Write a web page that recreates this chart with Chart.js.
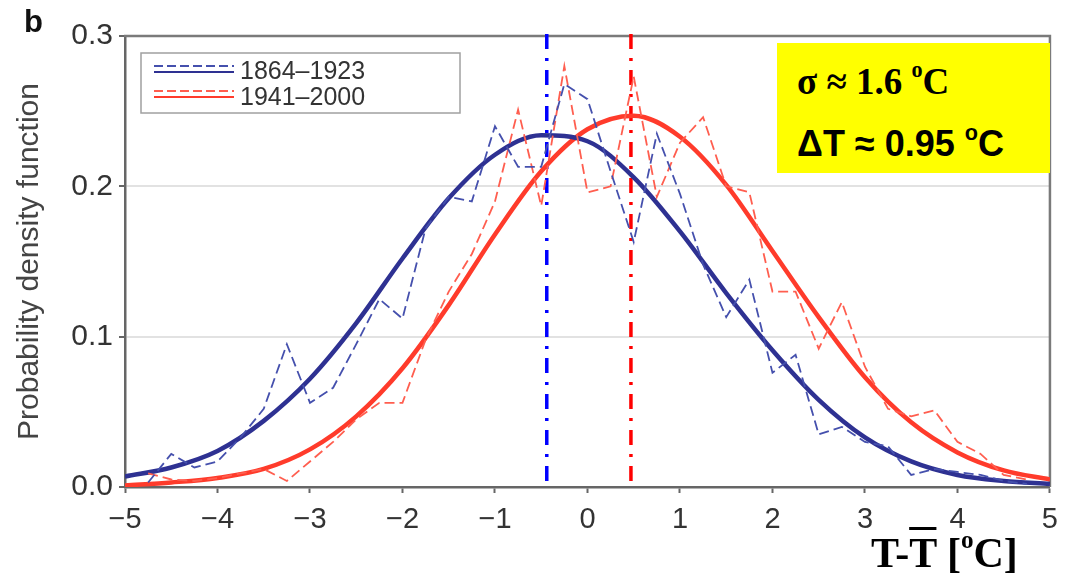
<!DOCTYPE html>
<html>
<head>
<meta charset="utf-8">
<script src="https://cdn.jsdelivr.net/npm/chart.js@4"></script>
<style>
  body { margin: 0; background: #fff; }
  #wrap { position: relative; width: 1068px; height: 584px; overflow: hidden; }
  #chart { position: absolute; left: 0; top: 0; }
  .panel { position: absolute; left: 24px; top: 4px; font: bold 31px 'Liberation Sans', Arial, sans-serif; color: #111; }
  .note { position: absolute; left: 777px; top: 43px; width: 273px; height: 130px; background: #ffff00; }
  .note div { position: absolute; left: 20px; white-space: nowrap; color: #000; line-height: 1; }
  .sig { top: 20px; font: bold 37px 'Liberation Serif', 'Times New Roman', serif; }
  .dt { top: 83px; font: bold 36px 'Liberation Sans', Arial, sans-serif; }
  sup { font-size: 0.6em; vertical-align: 0; position: relative; top: -0.75em; }
  .xtitle { position: absolute; left: 871px; top: 529px; line-height: 1; white-space: nowrap; font: bold 42px 'Liberation Serif', 'Times New Roman', serif; color: #000; }
  .ov { text-decoration: overline; text-decoration-thickness: 3px; }
</style>
</head>
<body>
<div id="wrap">
  <canvas id="chart" width="1068" height="584"></canvas>
  <div class="panel">b</div>
  <div class="note">
    <div class="sig">σ ≈ 1.6 <sup>o</sup>C</div>
    <div class="dt">ΔT ≈ 0.95 <sup>o</sup>C</div>
  </div>
  <div class="xtitle">T-<span class="ov">T</span> [<sup>o</sup>C]</div>
</div>
<script>
// ------------------------------------------------------- //
// Data
// ------------------------------------------------------ //
var binCentres = [-4.75, -4.5, -4.25, -4.0, -3.75, -3.5, -3.25, -3.0, -2.75, -2.5, -2.25, -2.0, -1.75,
    -1.5, -1.25, -1.0, -0.75, -0.5, -0.25, 0.0, 0.25, 0.5, 0.75, 1.0, 1.25, 1.5, 1.75,
    2.0, 2.25, 2.5, 2.75, 3.0, 3.25, 3.5, 3.75, 4.0, 4.25, 4.5, 4.75];
var histEarly = [0.003, 0.022, 0.013, 0.017, 0.033, 0.052, 0.095, 0.056, 0.066, 0.095, 0.125, 0.112, 0.172,
    0.193, 0.19, 0.24, 0.213, 0.213, 0.268, 0.258, 0.21, 0.163, 0.235, 0.195, 0.148, 0.113, 0.138,
    0.076, 0.088, 0.035, 0.04, 0.03, 0.027, 0.008, 0.012, 0.01, 0.008, 0.004, 0.002];
var histLate = [0.009, 0.005, 0.004, 0.006, 0.009, 0.012, 0.004, 0.017, 0.03, 0.045, 0.056, 0.056, 0.098,
    0.13, 0.155, 0.19, 0.251, 0.187, 0.28, 0.196, 0.2, 0.273, 0.193, 0.229, 0.246, 0.2, 0.196,
    0.13, 0.13, 0.092, 0.123, 0.08, 0.052, 0.047, 0.051, 0.03, 0.022, 0.008, 0.005];

var fitX = [-5, -4.5, -4, -3.5, -3, -2.5, -2, -1.5, -1, -0.5, 0, 0.5, 1, 1.5, 2, 2.5, 3, 3.5, 4, 4.5, 5];
var fitEarly = [0.007, 0.013, 0.024, 0.044, 0.072, 0.109, 0.152, 0.192, 0.221, 0.234, 0.23, 0.206,
    0.17, 0.129, 0.091, 0.058, 0.033, 0.017, 0.008, 0.004, 0.002];
var fitLate = [0.001, 0.003, 0.006, 0.012, 0.025, 0.047, 0.079, 0.121, 0.168, 0.21, 0.238, 0.247,
    0.233, 0.201, 0.157, 0.113, 0.073, 0.043, 0.023, 0.011, 0.005];

var meanEarly = -0.44;
var meanLate = 0.47;
var meanSpan = [0.004, 0.304];

var seriesNames = ['1864\u20131923', '1941\u20132000'];
var xTicks = [-5, -4, -3, -2, -1, 0, 1, 2, 3, 4, 5];
var yTicks = [0, 0.1, 0.2, 0.3];

var blueFit = '#2e3192', redFit = '#ff3b2b';
var blueHist = '#4550ad', redHist = '#ff5e4f';

function pairs(xs, ys) {
    return xs.map(function (x, i) { return { x: x, y: ys[i] }; });
}
function vline(x) {
    return meanSpan.map(function (y) { return { x: x, y: y }; });
}

// ------------------------------------------------------- //
// Frame (top / right) and legend
// ------------------------------------------------------ //
var framePlugin = {
    id: 'frame',
    beforeDatasetsDraw: function (chart) {
        var a = chart.chartArea, ctx = chart.ctx;
        ctx.save();
        ctx.strokeStyle = '#7a7a7a';
        ctx.lineWidth = 2.5;
        ctx.beginPath();
        ctx.moveTo(a.left - 1, a.top);
        ctx.lineTo(a.right, a.top);
        ctx.lineTo(a.right, a.bottom);
        ctx.stroke();
        ctx.restore();
    }
};

var legendPlugin = {
    id: 'pairLegend',
    afterDraw: function (chart) {
        var ctx = chart.ctx;
        ctx.save();
        ctx.fillStyle = '#fff';
        ctx.fillRect(141, 53, 319, 60);
        ctx.strokeStyle = '#a0a0a0';
        ctx.lineWidth = 1.5;
        ctx.strokeRect(141, 53, 319, 60);
        var rows = [
            { y: 66, hist: blueHist, fit: blueFit, name: seriesNames[0], base: 79 },
            { y: 91, hist: redHist, fit: redFit, name: seriesNames[1], base: 105 }
        ];
        rows.forEach(function (r) {
            ctx.setLineDash([9, 4]);
            ctx.lineWidth = 1.8;
            ctx.strokeStyle = r.hist;
            ctx.beginPath(); ctx.moveTo(154, r.y); ctx.lineTo(234, r.y); ctx.stroke();
            ctx.setLineDash([]);
            ctx.lineWidth = 2;
            ctx.strokeStyle = r.fit;
            ctx.beginPath(); ctx.moveTo(154, r.y + 6); ctx.lineTo(234, r.y + 6); ctx.stroke();
            ctx.fillStyle = '#333';
            ctx.font = '25px "Liberation Sans", Arial, sans-serif';
            ctx.textBaseline = 'alphabetic';
            ctx.fillText(r.name, 240, r.base);
        });
        ctx.restore();
    }
};

var ctx = document.getElementById('chart').getContext('2d');
var chart = new Chart(ctx, {
    type: 'line',
    data: {
        datasets: [
            { label: seriesNames[0] + ' hist', data: pairs(binCentres, histEarly), borderColor: blueHist,
              borderWidth: 1.8, borderDash: [10, 5], pointRadius: 0, tension: 0 },
            { label: seriesNames[1] + ' hist', data: pairs(binCentres, histLate), borderColor: redHist,
              borderWidth: 1.8, borderDash: [10, 5], pointRadius: 0, tension: 0 },
            { label: seriesNames[0], data: pairs(fitX, fitEarly), borderColor: blueFit,
              borderWidth: 4.5, pointRadius: 0, cubicInterpolationMode: 'monotone' },
            { label: seriesNames[1], data: pairs(fitX, fitLate), borderColor: redFit,
              borderWidth: 4.5, pointRadius: 0, cubicInterpolationMode: 'monotone' },
            { label: 'mean early', data: vline(meanEarly), borderColor: '#0000ff', borderWidth: 3.5,
              borderDash: [15, 9, 3, 9], pointRadius: 0, clip: false },
            { label: 'mean late', data: vline(meanLate), borderColor: '#ff0000', borderWidth: 3.5,
              borderDash: [15, 9, 3, 9], pointRadius: 0, clip: false }
        ]
    },
    options: {
        responsive: false,
        devicePixelRatio: 1,
        animation: false,
        layout: { padding: { top: 36, right: 13, left: 0, bottom: 0 } },
        plugins: { legend: { display: false }, tooltip: { enabled: false } },
        scales: {
            x: {
                type: 'linear',
                min: -5, max: 5,
                afterFit: function (s) { s.height = 97; },
                afterBuildTicks: function (s) { s.ticks = xTicks.map(function (v) { return { value: v }; }); },
                ticks: {
                    padding: 10,
                    color: '#333',
                    font: { family: '"Liberation Sans", Arial, sans-serif', size: 29 },
                    callback: function (v) { return String(v).replace('-', '\u2212'); }
                },
                grid: { drawOnChartArea: false, drawTicks: true, tickLength: 6, tickColor: '#666', tickWidth: 2 },
                border: { color: '#666', width: 2.5 }
            },
            y: {
                min: 0, max: 0.3,
                afterFit: function (s) { s.width = 125; },
                afterBuildTicks: function (s) { s.ticks = yTicks.map(function (v) { return { value: v }; }); },
                ticks: {
                    padding: 6,
                    color: '#333',
                    font: { family: '"Liberation Sans", Arial, sans-serif', size: 30 },
                    callback: function (v) { return v.toFixed(1); }
                },
                grid: {
                    color: function (c) { return (c.tick && (c.tick.value === 0.1 || c.tick.value === 0.2)) ? '#e2e2e2' : 'rgba(0,0,0,0)'; },
                    lineWidth: 2,
                    drawTicks: true, tickLength: 6, tickColor: '#666', tickWidth: 2
                },
                border: { color: '#666', width: 2.5 },
                title: {
                    display: true,
                    text: 'Probability density function',
                    color: '#444',
                    font: { family: '"Liberation Sans", Arial, sans-serif', size: 30 },
                    padding: { top: 12, bottom: 0 }
                }
            }
        }
    },
    plugins: [framePlugin, legendPlugin]
});
</script>
</body>
</html>
